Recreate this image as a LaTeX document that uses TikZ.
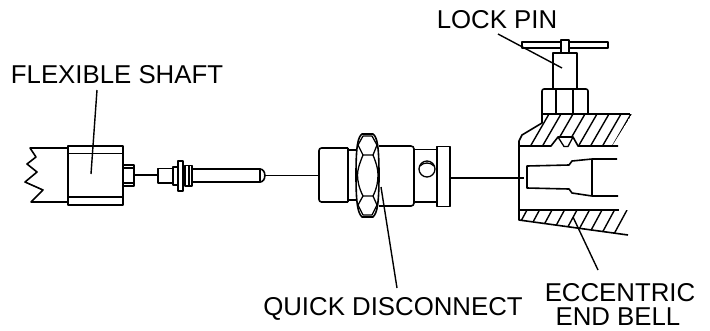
\documentclass[tikz,border=0pt]{standalone}
\usepackage{fontspec}
\setmainfont{Liberation Sans}
\tikzset{
  part/.style={draw=black,line width=1.6pt,line join=round,fill=none},
  thin part/.style={draw=black,line width=1.3pt,line join=round},
  leader/.style={draw=black,line width=1.4pt},
  hatch/.style={draw=black,line width=1.4pt},
  caption/.style={inner sep=0pt,anchor=base,font=\fontsize{25.8}{30}\selectfont,text=black}
}
\begin{document}
\begin{tikzpicture}[x=1pt,y=-1pt]
\useasboundingbox (0,0) rectangle (710,330);
% labels
\node[caption] (flex) at (117,83) {FLEXIBLE SHAFT};
\node[caption] (lock) at (497,28) {LOCK PIN};
\node[caption] (quick) at (393,315) {QUICK DISCONNECT};
\node[caption] (ecc) at (620,301) {ECCENTRIC};
\node[caption] (end) at (618,325) {END BELL};
% leader targets
\coordinate (flexT) at (91,174);
\coordinate (flexS) at (97,90);
\coordinate (lockS) at (498,34);
\coordinate (lockT) at (562,68);
\coordinate (quickS) at (397,288);
\coordinate (quickT) at (381,187);
\coordinate (eccS) at (598,270);
\coordinate (eccT) at (573,217);
% flexible shaft
\draw[part] (68,148) -- (30,148) -- (36,157) -- (27,164) -- (37,172) -- (25,182) -- (43,190) -- (31,202) -- (68,202);
\draw[part] (68,146) rectangle (123,205);
\draw[thin part] (68,153.5) -- (123,153.5) (68,197) -- (123,197);
\draw[part] (123,165) rectangle (134,186);
\draw[thin part] (123,168) -- (134,168) (123,183) -- (134,183);
\draw[thin part] (134,175) -- (158,175);
% fitting
\draw[part] (158,168.5) rectangle (173,183);
\draw[part] (173,167) rectangle (178,185);
\draw[part] (178,161) rectangle (183,191);
\draw[thin part] (183,170) -- (185,170) (183,182) -- (185,182);
\draw[part] (185,165.5) rectangle (192,186);
\draw[thin part] (189,165.5) -- (189,186);
\draw[part] (192,169) rectangle (260,182);
\draw[part] (260,169) .. controls (266.5,169) and (266.5,182) .. (260,182);
\draw[thin part] (265,175.5) -- (319,175.5);
% quick disconnect
\draw[part,rounded corners=2.5pt] (348,148) -- (319,148) -- (319,202) -- (348,202);
\draw[part] (348,148) -- (348,202);
\draw[part] (348,150) -- (356,150) (348,200) -- (356,200);
\draw[part,rounded corners=3pt] (379,146) -- (414,146) -- (414,206) -- (379,206);
\draw[part] (414,149.5) -- (437,149.5) (414,202) -- (437,202);
\draw[part] (437,146.5) rectangle (450,206.5);
\draw[thin part] (427,169) ellipse[x radius=8,y radius=8];
\draw[thin part] (420,166) .. controls (423,162) and (431,162) .. (434,166);
% nut
\draw[part] (362,134) -- (373,134) .. controls (377,137) and (379,145) .. (379,175) .. controls (379,205) and (377,213) .. (373,217) -- (362,217) .. controls (358,213) and (356,205) .. (356,175) .. controls (356,145) and (358,137) .. (362,134) -- cycle;
\draw[thin part] (363,136) -- (372,136) -- (377,145) -- (373,155) -- (363,155) -- (358,145) -- cycle;
\draw[thin part] (363,196) -- (373,196) -- (377,205) -- (372,215) -- (363,215) -- (358,205) -- cycle;
\draw[thin part] (363,155) .. controls (359,165) and (357.5,170) .. (357.5,175) .. controls (357.5,181) and (359,188) .. (363,196);
\draw[thin part] (373,155) .. controls (377,165) and (378,170) .. (378,175) .. controls (378,181) and (377,188) .. (373,196);
\draw[thin part] (450,178) -- (524,178);
% lock pin
\draw[part] (522,42) rectangle (608,48);
\draw[part,fill=white] (561,40) rectangle (569,53);
\draw[part] (553,53) rectangle (577,89);
\draw[part,rounded corners=2pt] (542,114) -- (542,89) -- (588,89) -- (588,114);
\draw[part] (556,89) -- (556,114) (573,89) -- (573,114);
% end bell, upper wall
\draw[part] (542,114) -- (630,114);
\draw[part] (542,114) -- (542,123) -- (522,135) -- (519,141) -- (519,220) -- (628,235);
\draw[part] (519,146) -- (551,146) -- (558,137) -- (573,137) -- (578,146) -- (618,146);
\draw[thin part] (558,137) -- (564,146.5) -- (568,146.5) -- (573,137);
\begin{scope}
\clip (542,114) -- (632,114) -- (612,146) -- (578,146) -- (573,137) -- (558,137) -- (551,146) -- (519,146) -- (522,135) -- (542,123) -- cycle;
\foreach \t in {549,561,573,585,597,609,621,631}
  \draw[hatch] (\t,114) -- (\t-18.5,146);
\end{scope}
% end bell, lower wall
\draw[part] (519,210) -- (619,210);
\begin{scope}
\clip (519,210) -- (632,210) -- (632,236) -- (519,220) -- cycle;
\foreach \t in {527,539.5,552,564.5,577,589.5,602,614.5,627}
  \draw[hatch] (\t,210) -- (\t-13,234);
\end{scope}
% bore
\draw[part] (617,159) -- (592,159) -- (572,161) -- (569,165) -- (527,166) -- (527,188) -- (569,189) -- (572,193) -- (592,196) -- (618,196);
\draw[part] (592,159) -- (592,196);
% leaders
\draw[leader] (flexS) -- (flexT);
\draw[leader] (lockS) -- (lockT);
\draw[leader] (quickS) -- (quickT);
\draw[leader] (eccS) -- (eccT);
\end{tikzpicture}
\end{document}
